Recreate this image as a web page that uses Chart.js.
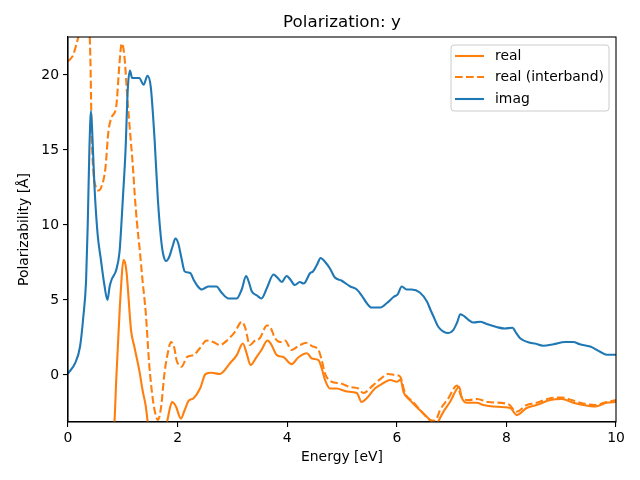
<!DOCTYPE html>
<html>
<head>
<meta charset="utf-8">
<title>Polarization: y</title>
<script src="https://cdn.jsdelivr.net/npm/chart.js@4.4.1/dist/chart.umd.min.js"></script>
<style>
  html, body { margin: 0; padding: 0; background: #fff; }
  #wrap { width: 640px; height: 480px; }
</style>
</head>
<body>
<div id="wrap"><canvas id="chart" width="640" height="480"></canvas></div>
<script>
// ===== data =====
const realEnergy = [0.3, 0.6, 0.8, 0.85, 0.88, 0.91, 0.94, 0.97, 1.01, 1.04, 1.07, 1.09, 1.15, 1.21, 1.30, 1.36, 1.42, 1.45, 1.52, 1.62, 1.75, 1.81, 1.86, 1.90, 1.97, 2.06, 2.13, 2.20, 2.29, 2.41, 2.51, 2.62, 2.77, 2.96, 3.08, 3.19, 3.26, 3.33, 3.44, 3.53, 3.64, 3.70, 3.81, 3.93, 4.08, 4.20, 4.36, 4.45, 4.57, 4.63, 4.69, 4.78, 4.90, 5.09, 5.27, 5.36, 5.45, 5.60, 5.75, 5.88, 6.00, 6.07, 6.12, 6.24, 6.42, 6.58, 6.70, 6.85, 6.97, 7.14, 7.18, 7.28, 7.46, 7.58, 7.76, 8.07, 8.19, 8.37, 8.55, 8.80, 9.01, 9.22, 9.40, 9.62, 9.83, 10.0];
const realValues = [-40, -15, -5, -3.0, -0.33, 1.9, 4.1, 6.0, 7.67, 7.5, 6.8, 5.9, 3.0, 1.9, 0.33, -1.0, -2.1, -3.0, -5, -6, -4, -3.1, -2.2, -1.8, -2.1, -2.9, -2.33, -1.73, -1.55, -0.9, 0.07, 0.15, 0.07, 0.8, 1.33, 2.1, 1.45, 0.67, 1.2, 1.67, 2.3, 2.1, 1.33, 1.2, 0.73, 1.17, 1.45, 1.1, 1.0, 0.45, -0.33, -0.9, -0.9, -1.1, -1.2, -1.8, -1.55, -0.9, -0.55, -0.33, -0.45, -0.3, -1.1, -1.67, -2.33, -2.9, -3.3, -2.45, -1.8, -0.8, -1.45, -1.85, -1.85, -2.0, -2.1, -2.2, -2.67, -2.2, -2.0, -1.67, -1.6, -1.85, -2.0, -2.1, -1.85, -1.8];

const interEnergy = [0.0, 0.09, 0.15, 0.2, 0.27, 0.33, 0.38, 0.41, 0.42, 0.43, 0.46, 0.51, 0.56, 0.61, 0.68, 0.74, 0.80, 0.88, 0.94, 0.98, 1.01, 1.04, 1.08, 1.13, 1.18, 1.22, 1.26, 1.31, 1.36, 1.42, 1.48, 1.55, 1.61, 1.64, 1.70, 1.76, 1.82, 1.88, 1.94, 1.98, 2.07, 2.17, 2.29, 2.41, 2.53, 2.65, 2.77, 2.90, 3.05, 3.17, 3.23, 3.32, 3.41, 3.50, 3.63, 3.69, 3.78, 3.87, 3.96, 4.08, 4.20, 4.36, 4.45, 4.57, 4.63, 4.69, 4.81, 4.96, 5.15, 5.30, 5.39, 5.57, 5.72, 5.84, 5.97, 6.06, 6.15, 6.30, 6.48, 6.61, 6.70, 6.79, 6.94, 7.10, 7.18, 7.31, 7.46, 7.67, 8.04, 8.18, 8.37, 8.55, 8.80, 9.01, 9.19, 9.40, 9.62, 9.83, 10.0];
const interValues = [20.9, 21.3, 22.0, 22.8, 25, 26, 24, 20.8, 18.6, 16.3, 13.7, 12.5, 12.3, 12.55, 13.7, 16.3, 17.2, 17.9, 20.8, 22.1, 21.8, 20.8, 18.6, 16.3, 14.1, 11.9, 10.1, 8.3, 6.3, 4.1, 0.8, -1.67, -2.8, -3.0, -2.1, 0.1, 1.45, 2.2, 1.8, 1.0, 0.55, 1.2, 1.33, 1.8, 2.3, 2.2, 2.0, 2.3, 2.9, 3.55, 3.2, 2.0, 2.3, 2.45, 3.3, 3.2, 2.45, 2.2, 2.3, 1.67, 1.93, 2.15, 1.93, 1.67, 1.0, 0.1, -0.45, -0.55, -0.8, -0.9, -1.2, -0.67, -0.2, 0.07, 0.0, -0.1, -1.2, -1.8, -2.55, -3.0, -3.05, -2.33, -1.55, -0.7, -1.45, -1.67, -1.6, -1.8, -1.95, -2.45, -2.0, -1.85, -1.55, -1.5, -1.67, -1.9, -2.0, -1.8, -1.67];

const imagEnergy = [0.0, 0.13, 0.22, 0.28, 0.33, 0.36, 0.39, 0.42, 0.45, 0.48, 0.54, 0.60, 0.66, 0.72, 0.76, 0.80, 0.88, 0.94, 0.97, 1.0, 1.05, 1.09, 1.13, 1.17, 1.21, 1.30, 1.38, 1.45, 1.51, 1.58, 1.64, 1.70, 1.74, 1.79, 1.85, 1.91, 1.96, 2.01, 2.07, 2.13, 2.23, 2.30, 2.37, 2.44, 2.50, 2.56, 2.71, 2.80, 2.93, 3.08, 3.17, 3.25, 3.30, 3.35, 3.45, 3.53, 3.63, 3.75, 3.82, 3.90, 3.99, 4.05, 4.14, 4.23, 4.30, 4.42, 4.47, 4.55, 4.61, 4.70, 4.78, 4.87, 4.99, 5.15, 5.27, 5.36, 5.45, 5.54, 5.69, 5.82, 5.94, 6.02, 6.09, 6.18, 6.27, 6.42, 6.55, 6.62, 6.67, 6.76, 6.85, 6.94, 7.03, 7.10, 7.16, 7.24, 7.32, 7.40, 7.52, 7.64, 7.82, 7.97, 8.11, 8.18, 8.25, 8.43, 8.52, 8.67, 8.86, 9.07, 9.22, 9.34, 9.53, 9.71, 9.83, 10.0];
const imagValues = [0.1, 0.8, 1.9, 3.9, 6.3, 10.0, 15.0, 17.6, 15.5, 12.8, 9.4, 7.7, 6.1, 5.0, 5.9, 6.4, 7.0, 8.2, 9.8, 11.7, 15.0, 19.0, 20.3, 19.8, 19.8, 19.8, 19.35, 19.95, 19.2, 15.7, 11.7, 9.0, 8.0, 7.6, 7.9, 8.6, 9.1, 8.8, 7.8, 6.9, 6.8, 6.3, 5.9, 5.7, 5.8, 5.9, 5.9, 5.5, 5.1, 5.1, 5.7, 6.6, 6.2, 5.6, 5.3, 5.1, 5.8, 6.7, 6.5, 6.2, 6.6, 6.4, 6.0, 6.2, 6.1, 6.8, 6.9, 7.4, 7.8, 7.5, 7.1, 6.5, 6.3, 5.9, 5.7, 5.3, 4.8, 4.5, 4.5, 4.8, 5.2, 5.4, 5.9, 5.7, 5.7, 5.5, 4.9, 4.3, 3.9, 3.2, 2.9, 2.8, 3.0, 3.5, 4.05, 3.9, 3.65, 3.5, 3.55, 3.4, 3.2, 3.1, 3.15, 2.8, 2.45, 2.15, 2.1, 1.95, 2.05, 2.2, 2.2, 2.05, 1.9, 1.55, 1.35, 1.35];

const xTicks = [0, 2, 4, 6, 8, 10];
const yTicks = [0, 5, 10, 15, 20];
const seriesLabels = ["real", "real (interband)", "imag"];

// ===== styles =====
const ORANGE = "#ff7f0e";
const BLUE = "#1f77b4";
const FONT = "DejaVu Sans";
const DASH = [7.7, 3.3];

function toPoints(xs, ys) {
  return xs.map((x, i) => ({ x: x, y: ys[i] }));
}

// box around the axes, title and legend like matplotlib
const decorPlugin = {
  id: "decor",
  afterDatasetsDraw(chart) {
    const { ctx, chartArea: a } = chart;
    ctx.save();
    ctx.strokeStyle = "#000";
    ctx.lineWidth = 1.1;
    ctx.strokeRect(a.left, a.top, a.right - a.left, a.bottom - a.top);

    // title
    ctx.fillStyle = "#000";
    ctx.font = "16.7px '" + FONT + "'";
    ctx.textAlign = "center";
    ctx.textBaseline = "middle";
    ctx.fillText("Polarization: y", (a.left + a.right) / 2, 23);

    // legend
    const bx = 451, by = 45, bw = 158, bh = 66, r = 3;
    ctx.beginPath();
    ctx.moveTo(bx + r, by);
    ctx.arcTo(bx + bw, by, bx + bw, by + bh, r);
    ctx.arcTo(bx + bw, by + bh, bx, by + bh, r);
    ctx.arcTo(bx, by + bh, bx, by, r);
    ctx.arcTo(bx, by, bx + bw, by, r);
    ctx.closePath();
    ctx.fillStyle = "rgba(255,255,255,0.8)";
    ctx.fill();
    ctx.strokeStyle = "#cccccc";
    ctx.lineWidth = 1;
    ctx.stroke();

    const rows = [56, 77, 99];
    const colors = [ORANGE, ORANGE, BLUE];
    const dashes = [[], DASH, []];
    ctx.font = "13.9px '" + FONT + "'";
    ctx.textAlign = "left";
    rows.forEach((y, i) => {
      ctx.beginPath();
      ctx.setLineDash(dashes[i]);
      ctx.strokeStyle = colors[i];
      ctx.lineWidth = 2.1;
      ctx.moveTo(455, y);
      ctx.lineTo(484, y);
      ctx.stroke();
      ctx.setLineDash([]);
      ctx.fillStyle = "#000";
      ctx.fillText(seriesLabels[i], 495, y);
    });
    ctx.restore();
  }
};

const ctx = document.getElementById("chart");
new Chart(ctx, {
  type: "line",
  data: {
    datasets: [
      {
        label: seriesLabels[0],
        data: toPoints(realEnergy, realValues),
        borderColor: ORANGE,
        borderWidth: 2.1,
        order: 2
      },
      {
        label: seriesLabels[1],
        data: toPoints(interEnergy, interValues),
        borderColor: ORANGE,
        borderWidth: 2.1,
        borderDash: DASH,
        order: 1
      },
      {
        label: seriesLabels[2],
        data: toPoints(imagEnergy, imagValues),
        borderColor: BLUE,
        borderWidth: 2.1,
        order: 0
      }
    ]
  },
  options: {
    responsive: false,
    animation: false,
    devicePixelRatio: 1,
    parsing: false,
    elements: {
      point: { radius: 0 },
      line: { cubicInterpolationMode: "monotone", fill: false }
    },
    layout: { padding: { top: 37, right: 24, left: 0, bottom: 0 } },
    plugins: {
      legend: { display: false },
      title: { display: false },
      tooltip: { enabled: false }
    },
    scales: {
      x: {
        type: "linear",
        min: 0,
        max: 10,
        afterBuildTicks: s => { s.ticks = xTicks.map(v => ({ value: v })); },
        afterFit: s => { s.height = 58; },
        grid: { drawOnChartArea: false, drawTicks: true, tickLength: 5, color: "#000", lineWidth: 1.1 },
        border: { display: true, color: "#000", width: 1.1 },
        ticks: { color: "#000", font: { family: FONT, size: 13.9 }, padding: 3, maxRotation: 0 },
        title: { display: true, text: "Energy [eV]", color: "#000", font: { family: FONT, size: 13.9 }, padding: { top: 14, bottom: 14 } }
      },
      y: {
        type: "linear",
        min: -3.13,
        max: 22.53,
        afterBuildTicks: s => { s.ticks = yTicks.map(v => ({ value: v })); },
        afterFit: s => { s.width = 68; },
        grid: { drawOnChartArea: false, drawTicks: true, tickLength: 5, color: "#000", lineWidth: 1.1 },
        border: { display: true, color: "#000", width: 1.1 },
        ticks: { color: "#000", font: { family: FONT, size: 13.9 }, padding: 4 },
        title: { display: true, text: "Polarizability [Å]", color: "#000", font: { family: FONT, size: 13.9 }, padding: { top: 16, bottom: 16 } }
      }
    }
  },
  plugins: [decorPlugin]
});
</script>
</body>
</html>
